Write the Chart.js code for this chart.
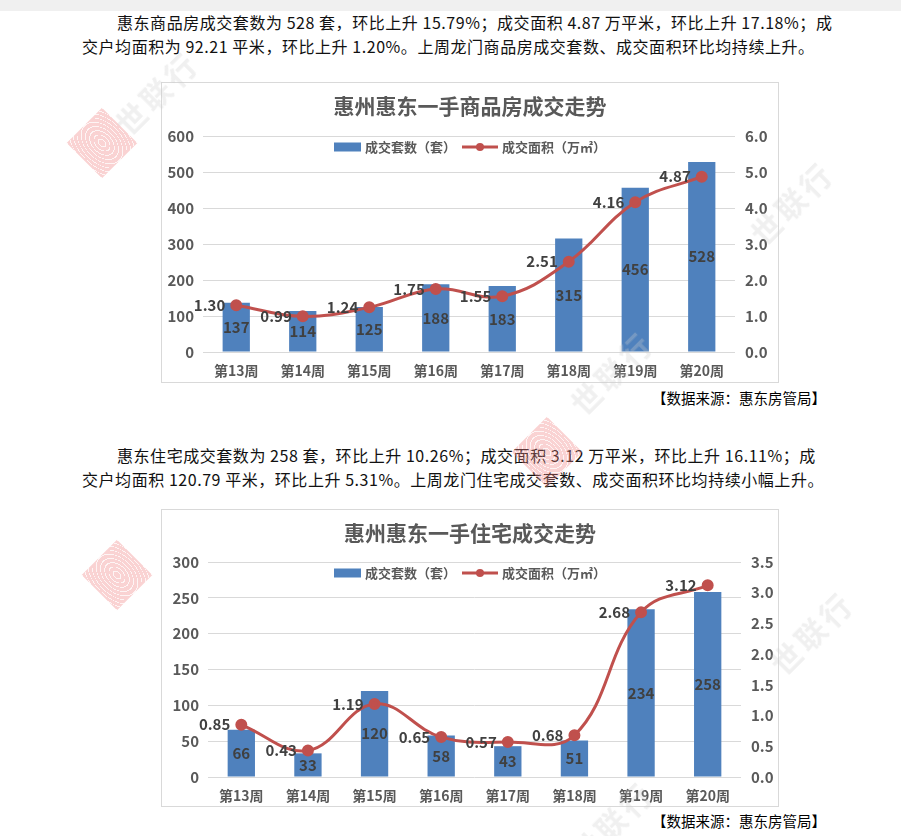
<!DOCTYPE html>
<html>
<head>
<meta charset="UTF-8">
<title>惠东成交走势</title>
<script src="https://cdn.jsdelivr.net/npm/chart.js"></script>
<style>
  body { margin: 0; width: 901px; height: 836px; background: #fff; position: relative; overflow: hidden;
         font-family: "Noto Sans CJK SC", sans-serif; }
  .topbar { position: absolute; left: 0; top: 0; width: 901px; height: 11px; background: #f0f0f0; }
  .para { position: absolute; left: 82px; font-size: 16px; line-height: 24px; color: #111; white-space: nowrap; letter-spacing: 0.55px; }
  .para .first { padding-left: 35px; }
  .box { position: absolute; left: 161px; border: 1px solid #d9d9d9; background: #fff; }
  .box canvas { display: block; }
  .source { position: absolute; right: 75px; font-size: 14.5px; line-height: 20px; color: #000; }
  .wm { position: absolute; pointer-events: none; }
  .logo { width: 50px; height: 50px; transform: rotate(45deg); opacity: 0.35;
          background: repeating-radial-gradient(ellipse 60% 40% at center, #f08080 0 4px, #fbe0e0 4px 5px); }
  .wtext { color: #ccc; font-size: 30px; font-weight: bold; transform: rotate(-45deg); opacity: 0.3; letter-spacing: 4px; }
</style>
</head>
<body>
<div class="topbar"></div>

<div class="para" style="top:10px">
  <div class="first">惠东商品房成交套数为 528 套，环比上升 15.79%；成交面积 4.87 万平米，环比上升 17.18%；成</div>
  <div>交户均面积为 92.21 平米，环比上升 1.20%。上周龙门商品房成交套数、成交面积环比均持续上升。</div>
</div>

<div class="box" style="top:82px"><canvas id="chart1" width="616" height="299"></canvas></div>
<div class="source" style="top:388px">【数据来源：惠东房管局】</div>

<div class="para" style="top:443px">
  <div class="first">惠东住宅成交套数为 258 套，环比上升 10.26%；成交面积 3.12 万平米，环比上升 16.11%；成</div>
  <div>交户均面积 120.79 平米，环比上升 5.31%。上周龙门住宅成交套数、成交面积环比均持续小幅上升。</div>
</div>

<div class="box" style="top:509px"><canvas id="chart2" width="616" height="296"></canvas></div>
<div class="source" style="top:811px">【数据来源：惠东房管局】</div>

<div class="wm logo" style="left:77px;top:118px"></div>
<div class="wm logo" style="left:92px;top:550px"></div>
<div class="wm logo" style="left:522px;top:427px"></div>
<div class="wm wtext" style="left:105px;top:70px">世联行</div>
<div class="wm wtext" style="left:740px;top:180px">世联行</div>
<div class="wm wtext" style="left:560px;top:350px">世联行</div>
<div class="wm wtext" style="left:760px;top:610px">世联行</div>
<div class="wm wtext" style="left:560px;top:800px">世联行</div>

<script>
  // weeks
  const weeks = ['第13周', '第14周', '第15周', '第16周', '第17周', '第18周', '第19周', '第20周'];

  // chart 1: 商品房
  const units1 = [137, 114, 125, 188, 183, 315, 456, 528];
  const area1 = [1.30, 0.99, 1.24, 1.75, 1.55, 2.51, 4.16, 4.87];
  const leftTicks1 = { max: 600, step: 100 };
  const rightTicks1 = { max: 6, step: 1 };

  // chart 2: 住宅
  const units2 = [66, 33, 120, 58, 43, 51, 234, 258];
  const area2 = [0.85, 0.43, 1.19, 0.65, 0.57, 0.68, 2.68, 3.12];
  const leftTicks2 = { max: 300, step: 50 };
  const rightTicks2 = { max: 3.5, step: 0.5 };

  const FONT = '"Noto Sans CJK SC", sans-serif';
  const BLUE = '#4f81bd';
  const RED = '#c0504d';
  const GREY = '#595959';

  // title, legend and value labels
  const extras = {
    id: 'extras',
    afterDraw(chart) {
      const o = chart.options.plugins.extras;
      const ctx = chart.ctx;
      const cx = chart.width / 2;
      ctx.save();

      ctx.fillStyle = GREY;
      ctx.font = 'bold 21px ' + FONT;
      ctx.textAlign = 'center';
      ctx.textBaseline = 'middle';
      ctx.fillText(o.title, cx, o.titleY);

      // legend
      const barLbl = chart.data.datasets[1].label;
      const lineLbl = chart.data.datasets[0].label;
      ctx.font = 'bold 13px ' + FONT;
      const w1 = ctx.measureText(barLbl).width;
      const w2 = ctx.measureText(lineLbl).width;
      const total = 27 + 4 + w1 + 6 + 36 + 4 + w2;
      let x = cx - total / 2;
      const ly = o.legendY;
      ctx.fillStyle = BLUE;
      ctx.fillRect(x, ly - 4.5, 27, 9);
      x += 31;
      ctx.fillStyle = GREY;
      ctx.textAlign = 'left';
      ctx.fillText(barLbl, x, ly);
      x += w1 + 6;
      ctx.strokeStyle = RED;
      ctx.lineWidth = 3;
      ctx.beginPath();
      ctx.moveTo(x, ly);
      ctx.lineTo(x + 36, ly);
      ctx.stroke();
      ctx.fillStyle = RED;
      ctx.beginPath();
      ctx.arc(x + 18, ly, 4, 0, Math.PI * 2);
      ctx.fill();
      x += 40;
      ctx.fillStyle = GREY;
      ctx.fillText(lineLbl, x, ly);

      // values
      ctx.font = 'bold 15px ' + FONT;
      ctx.fillStyle = '#404040';
      const barMeta = chart.getDatasetMeta(1);
      ctx.textAlign = 'center';
      barMeta.data.forEach((el, i) => {
        ctx.fillText(chart.data.datasets[1].data[i], el.x, (el.y + el.base) / 2);
      });
      const lineMeta = chart.getDatasetMeta(0);
      ctx.textAlign = 'right';
      lineMeta.data.forEach((el, i) => {
        ctx.fillText(chart.data.datasets[0].data[i].toFixed(2), el.x - 11, el.y);
      });
      ctx.restore();
    }
  };

  function makeChart(id, title, units, area, lt, rt, m) {
    new Chart(document.getElementById(id), {
      type: 'bar',
      data: {
        labels: weeks,
        datasets: [
          {
            type: 'line',
            label: '成交面积（万㎡）',
            data: area,
            yAxisID: 'y1',
            borderColor: RED,
            backgroundColor: RED,
            borderWidth: 3,
            pointRadius: 4.5,
            pointBackgroundColor: RED,
            pointBorderColor: RED,
            tension: 0.4,
            order: 0
          },
          {
            label: '成交套数（套）',
            data: units,
            yAxisID: 'y',
            backgroundColor: BLUE,
            barPercentage: 0.41,
            categoryPercentage: 1.0,
            order: 1
          }
        ]
      },
      options: {
        responsive: false,
        animation: false,
        events: [],
        layout: { padding: { top: m.top, left: 0, right: 0, bottom: 0 } },
        plugins: {
          legend: { display: false },
          title: { display: false },
          tooltip: { enabled: false },
          extras: { title: title, titleY: m.titleY, legendY: m.legendY }
        },
        scales: {
          x: {
            grid: { display: false },
            border: { display: false },
            ticks: { color: GREY, font: { family: FONT, size: 14, weight: 'bold' }, padding: 2, maxRotation: 0 },
            afterFit(s) { s.height = m.bottom; }
          },
          y: {
            position: 'left',
            min: 0, max: lt.max,
            grid: { color: '#d9d9d9', drawTicks: false },
            border: { display: false },
            ticks: { stepSize: lt.step, color: GREY, font: { family: FONT, size: 15, weight: 'bold' }, padding: 9 },
            afterFit(s) { s.width = m.left; }
          },
          y1: {
            position: 'right',
            min: 0, max: rt.max,
            grid: { display: false, drawTicks: false },
            border: { display: false },
            ticks: { stepSize: rt.step, color: GREY, font: { family: FONT, size: 15, weight: 'bold' }, padding: 10,
                     callback: v => v.toFixed(1) },
            afterFit(s) { s.width = m.right; }
          }
        }
      },
      plugins: [extras]
    });
  }

  makeChart('chart1', '惠州惠东一手商品房成交走势', units1, area1, leftTicks1, rightTicks1,
            { top: 53, bottom: 30, left: 41, right: 43, titleY: 23, legendY: 64 });
  makeChart('chart2', '惠州惠东一手住宅成交走势', units2, area2, leftTicks2, rightTicks2,
            { top: 52, bottom: 29, left: 46, right: 37, titleY: 23, legendY: 63 });
</script>
</body>
</html>
